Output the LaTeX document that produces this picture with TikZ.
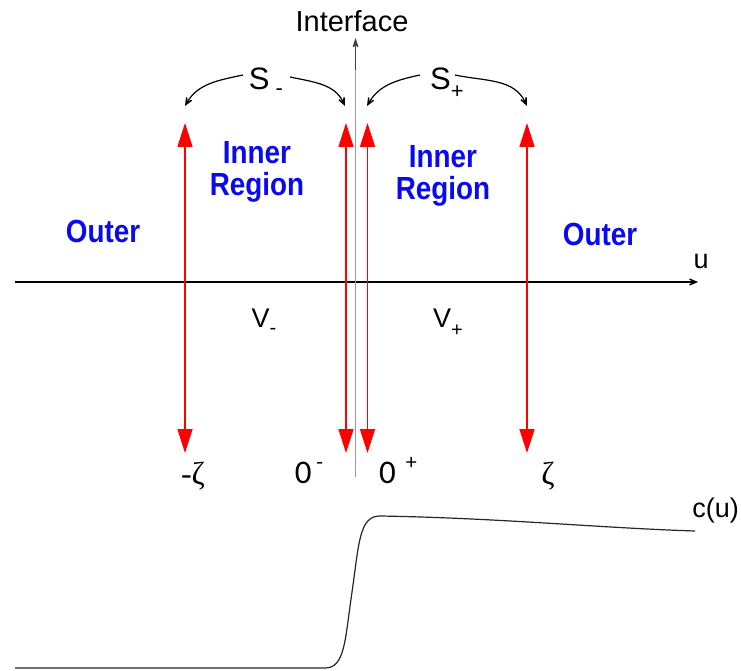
\documentclass[tikz,border=0pt]{standalone}
\usepackage{fontspec}
\setmainfont{Liberation Sans}
\setsansfont{Liberation Sans}
\newfontfamily\serifgr{Liberation Serif}
\newfontfamily\carl{Carlito}
\usetikzlibrary{arrows.meta}
\definecolor{lblblue}{RGB}{10,10,240}
\definecolor{arrred}{RGB}{255,0,0}
\tikzset{
  bluelbl/.style={text=lblblue, font=\fontsize{32}{32}\selectfont\sffamily\bfseries, xscale=0.87, align=center, inner sep=0pt},
  plainlbl/.style={font=\fontsize{27}{30}\selectfont\sffamily, inner sep=0pt},
  symlbl/.style={font=\fontsize{32}{30}\selectfont\serifgr, inner sep=0pt},
  zerolbl/.style={font=\fontsize{33}{30}\selectfont\carl, inner sep=0pt},
  redarrow/.style={draw=arrred, line width=1.6pt, {Triangle[length=24pt,width=15pt]}-{Triangle[length=24pt,width=15pt]}, fill=arrred},
  curvearrow/.style={draw=black, line width=1.2pt, -{Stealth[length=14pt,width=12pt,inset=9pt]}},
  axisarrow/.style={draw=black, line width=1.3pt, -{Stealth[length=15pt,width=13pt,inset=10pt]}},
}
\begin{document}
\begin{tikzpicture}[x=1pt,y=-1pt]
\useasboundingbox[fill=white] (0,0) rectangle (741,671);
% axis
\coordinate (axL) at (15,282);
\coordinate (axR) at (698,282);
\draw[axisarrow] (axL) -- (axR);
\node[plainlbl, anchor=base] (u) at (701,268) {u};
% interface
\coordinate (ifB) at (355.5,477);
\coordinate (ifT) at (355.5,38);
\draw[draw=gray!80, line width=1.8pt] (ifB) -- (355.5,55);
\draw[line width=1.4pt, draw=black!75, -{Stealth[length=18pt,width=12pt,inset=12pt]}] (355.5,70) -- (ifT);
\node[font=\fontsize{29}{30}\selectfont\sffamily, anchor=base, inner sep=0pt] (iface) at (352,32) {Interface};
% red arrows
\foreach \n/\x in {a/185,b/346,c/367.5,d/527}{
  \coordinate (\n T) at (\x,123);
  \coordinate (\n B) at (\x,453);
  \draw[redarrow] (\n T) -- (\n B);
}
% S labels
\node[font=\fontsize{31}{30}\selectfont\sffamily, anchor=base, inner sep=0pt] (Sm) at (266,90) {S\raisebox{-6pt}{\fontsize{22}{22}\selectfont\ -}};
\node[font=\fontsize{31}{30}\selectfont\sffamily, anchor=base, inner sep=0pt] (Sp) at (447,90) {S\raisebox{-9pt}{\fontsize{22}{22}\selectfont +}};
\coordinate (smL) at (243,75);
\coordinate (smR) at (290,77);
\coordinate (spL) at (420,75);
\coordinate (spR) at (455,75);
\coordinate (aC) at (185,106);
\coordinate (bC) at (345,106);
\coordinate (cC) at (367,106);
\coordinate (dC) at (527,106);
\draw[curvearrow] (smL) to[out=192,in=60] (aC);
\draw[curvearrow] (smR) to[out=-12,in=115] (bC);
\draw[curvearrow] (spL) to[out=192,in=60] (cC);
\draw[curvearrow] (spR) to[out=-12,in=115] (dC);
% blue labels
\node[bluelbl, anchor=base] (outL) at (103,242) {Outer};
\node[bluelbl, anchor=base] (outR) at (600,245) {Outer};
\node[bluelbl] (inL) at (257,172) {Inner\\Region};
\node[bluelbl] (inR) at (443,176) {Inner\\Region};
% V labels
\node[plainlbl, anchor=base] (Vm) at (264,327) {V\raisebox{-7pt}{\fontsize{20}{20}\selectfont -}};
\node[plainlbl, anchor=base] (Vp) at (448,327) {V\raisebox{-9pt}{\fontsize{20}{20}\selectfont +}};
% bottom labels
\node[symlbl, anchor=base] (zm) at (193,484) {-ζ};
\node[zerolbl, anchor=base] (zero1) at (309,483) {0\raisebox{14pt}{\fontsize{22}{20}\selectfont\ -}};
\node[zerolbl, anchor=base] (zero2) at (398,483) {0\raisebox{14pt}{\fontsize{22}{20}\selectfont\ \ +}};
\node[symlbl, anchor=base] (zp) at (548,484) {ζ};
% c(u)
\node[plainlbl, anchor=base east] (cu) at (739,517) {c(u)};
\coordinate (c0) at (15,668);
\coordinate (c1) at (325,668);
\coordinate (c2) at (352,592);
\coordinate (c3) at (380,516);
\coordinate (c4) at (695,531);
\draw[line width=1.2pt, draw=black!85] (c0) -- (c1) .. controls (345,668) and (345,640) .. (c2) .. controls (359,544) and (359,516) .. (c3) .. controls (500,518) and (600,528) .. (c4);
\end{tikzpicture}
\end{document}
